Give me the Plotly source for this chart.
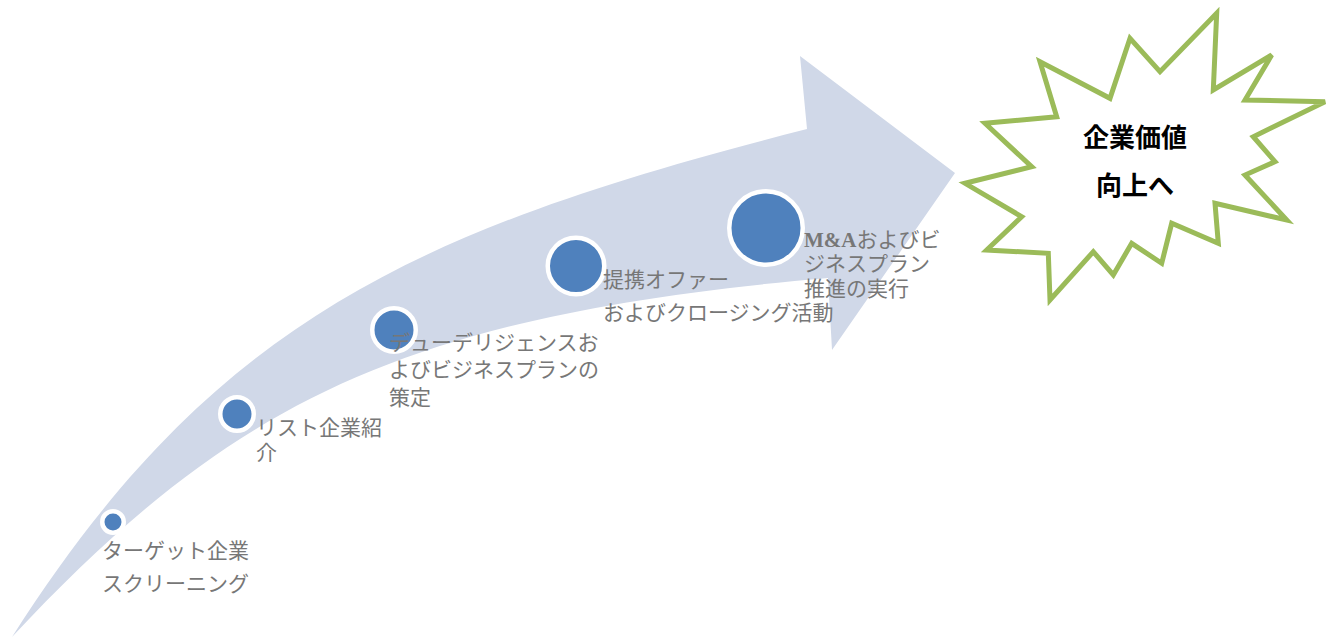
import plotly.graph_objects as go

# ---------------- data ----------------
step_labels = [
    ["ターゲット企業", "スクリーニング"],
    ["リスト企業紹", "介"],
    ["デューデリジェンスお", "よびビジネスプランの", "策定"],
    ["提携オファー", "およびクロージング活動"],
    ["<b>M&A</b>およびビ", "ジネスプラン", "推進の実行"],
]
step_x = [113, 237, 394, 576, 766]
step_y = [522, 414, 330, 266, 228]
step_radius = [13, 19, 24, 30.5, 39]

goal_lines = ["企業価値", "向上へ"]

# ---------------- layout config ----------------
W, H = 1327, 639
label_left = [100, 254, 387, 601, 802]
label_line_y = [[551, 584], [428, 453], [343, 370, 398], [280, 313], [240, 264, 289]]
goal_center_x = 1135
goal_line_y = [138, 186]

# arrow body: two cubic Bezier edges + head
upper_edge = [(12, 637), (215, 318), (420, 228), (807, 129)]
lower_edge = [(12, 637), (230, 404), (400, 315), (828, 278)]
arrow_head = [(800, 56), (955, 173), (832, 350)]

star = [(1216.7, 13.3), (1160, 71.7), (1130, 38.3), (1110, 98.3), (1040, 61.7),
        (1056.7, 116.7), (985, 123.3), (1031.7, 166.7), (965, 183.3), (1021.7, 216.7),
        (986.7, 250), (1048.3, 253.3), (1050, 300), (1093.3, 251.7), (1113.3, 275),
        (1131.7, 243.3), (1161.7, 263.3), (1171.7, 223.3), (1218.3, 243.3), (1215, 203.3),
        (1286.7, 220), (1245, 175), (1275, 161.7), (1253.3, 136.7), (1325, 101.7),
        (1245, 100), (1271.7, 55), (1213.3, 90)]

u0, u1, u2, u3 = upper_edge
l0, l1, l2, l3 = lower_edge
arrow_path = (
    f"M{u0[0]},{u0[1]} C{u1[0]},{u1[1]} {u2[0]},{u2[1]} {u3[0]},{u3[1]} "
    + " ".join(f"L{x},{y}" for x, y in arrow_head)
    + f" L{l3[0]},{l3[1]} C{l2[0]},{l2[1]} {l1[0]},{l1[1]} {l0[0]},{l0[1]} Z"
)

star_path = "M" + " L".join(f"{x},{y}" for x, y in star) + " Z"

ring = 4.5
fig = go.Figure()
fig.add_trace(go.Scatter(
    x=step_x, y=step_y, mode="markers",
    marker=dict(size=[2 * r - ring for r in step_radius], color="#4f81bd", opacity=1,
                line=dict(color="white", width=ring)),
    hoverinfo="skip", cliponaxis=False, showlegend=False,
))

shapes = [
    dict(type="path", path=arrow_path, xref="x", yref="y", fillcolor="#d0d8e8",
         line=dict(width=0), layer="below"),
    dict(type="path", path=star_path, xref="x", yref="y", fillcolor="white",
         line=dict(color="#9bbb59", width=5), layer="above"),
]

label_font = dict(family="Liberation Serif, Noto Sans CJK JP", size=21, color="#777777")
annotations = []
for lines, lx, ly in zip(step_labels, label_left, label_line_y):
    for text, y in zip(lines, ly):
        annotations.append(dict(x=lx, y=y, xref="x", yref="y", text=text, showarrow=False,
                                xanchor="left", yanchor="middle", font=label_font))
for text, y in zip(goal_lines, goal_line_y):
    annotations.append(dict(x=goal_center_x, y=y, xref="x", yref="y", text=f"<b>{text}</b>",
                            showarrow=False, xanchor="center", yanchor="middle",
                            font=dict(family="Liberation Serif, Noto Sans CJK JP", size=26,
                                      color="black")))

fig.update_layout(
    width=W, height=H, margin=dict(l=0, r=0, t=0, b=0),
    paper_bgcolor="white", plot_bgcolor="white",
    xaxis=dict(range=[0, W], visible=False, fixedrange=True),
    yaxis=dict(range=[H, 0], visible=False, fixedrange=True),
    shapes=shapes, annotations=annotations, showlegend=False,
)

fig.write_html("out.html", config={"displayModeBar": False},
               post_script="document.body.style.margin='0';document.body.style.overflow='hidden';")
